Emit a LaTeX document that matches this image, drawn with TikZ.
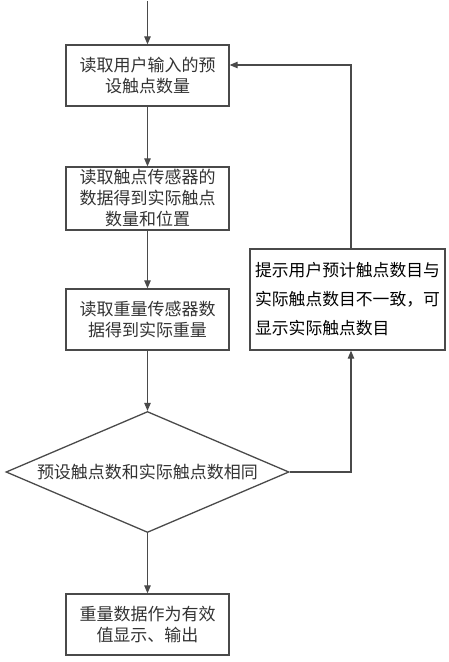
\documentclass[tikz,border=0pt]{standalone}
\usepackage{fontspec}
\setmainfont{Noto Sans CJK SC}
\usetikzlibrary{shapes.geometric,arrows.meta}
\definecolor{edgegray}{HTML}{4A4A4A}
\definecolor{txtgray}{HTML}{333333}
\begin{document}
\begin{tikzpicture}[x=1pt,y=-1pt,
  procbox/.style={draw=edgegray,line width=1.3pt,minimum width=163pt,minimum height=61pt,inner sep=0pt,
    align=center,font=\fontsize{17pt}{21pt}\selectfont,text=txtgray},
  decbox/.style={draw=edgegray,line width=1.3pt,diamond,aspect=2.35,minimum width=283pt,minimum height=121pt,
    inner sep=0pt,font=\fontsize{17pt}{21pt}\selectfont,text=txtgray},
  tipbox/.style={draw=edgegray,line width=1.3pt,minimum width=195pt,minimum height=101pt,inner sep=0pt,
    align=left,font=\fontsize{16.8pt}{29pt}\selectfont,text=black},
  flow/.style={draw=edgegray,line width=1.1pt,-{Triangle[length=8pt,width=6.5pt]}}]
\useasboundingbox (0,0) rectangle (449,662);
\coordinate (start) at (147.5,1);
\node[procbox] (b1) at (147.5,75.5) {读取用户输入的预\\设触点数量};
\node[procbox,minimum height=63pt] (b2) at (147.5,198.5) {读取触点传感器的\\数据得到实际触点\\数量和位置};
\node[procbox] (b3) at (147.5,319.5) {读取重量传感器数\\据得到实际重量};
\node[decbox] (d) at (147.5,472) {预设触点数和实际触点数相同};
\node[procbox] (b5) at (147.5,624.5) {重量数据作为有效\\值显示、输出};
\node[tipbox] (tip) at (347.5,299.5) {提示用户预计触点数目与\\实际触点数目不一致，可\\显示实际触点数目};
\coordinate (rd) at (351,472);
\coordinate (rt) at (351,65);
\draw[flow] (start) -- (b1.north);
\draw[flow] (b1.south) -- (b2.north);
\draw[flow] (b2.south) -- (b3.north);
\draw[flow] (b3.south) -- (d.north);
\draw[flow] (d.south) -- (b5.north);
\draw[flow] (d.east) -- (rd) -- (rd |- tip.south);
\draw[flow] (rt |- tip.north) -- (rt) -- (b1.east |- rt);
\end{tikzpicture}
\end{document}
